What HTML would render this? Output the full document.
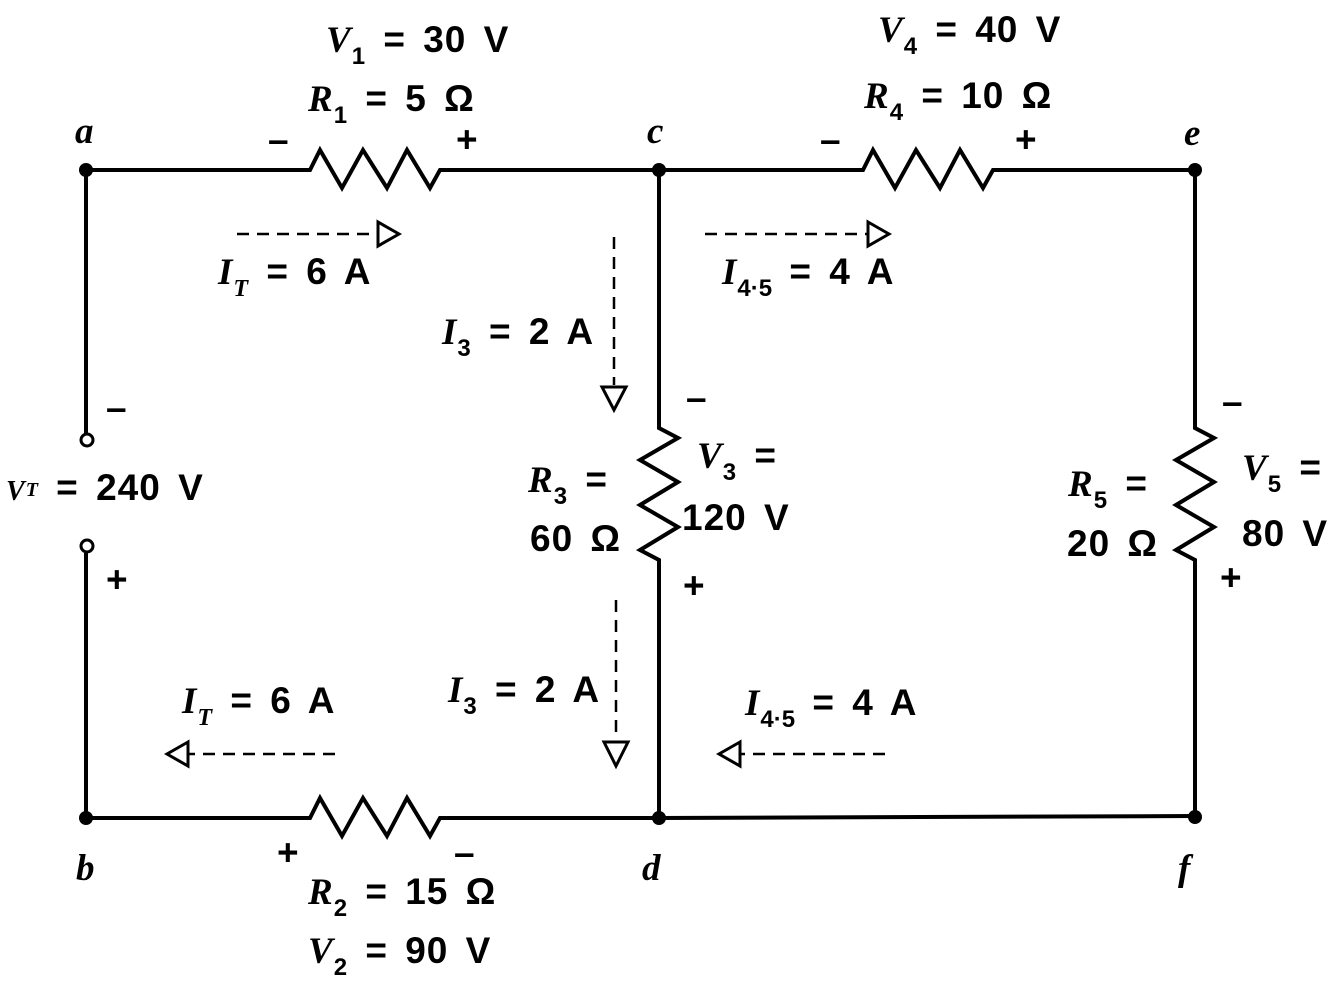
<!DOCTYPE html>
<html><head><meta charset="utf-8"><style>
html,body{margin:0;padding:0;background:#fff}
svg{display:block}
text{font-family:"Liberation Sans",sans-serif;font-weight:bold;fill:#000;word-spacing:6px;letter-spacing:1px}
.v{font-family:"Liberation Serif",serif;font-style:italic;font-weight:bold}
</style></head><body>
<svg width="1340" height="991" viewBox="0 0 1340 991" xmlns="http://www.w3.org/2000/svg">
<g stroke="#000" stroke-width="4" fill="none" stroke-linejoin="miter">
<polyline points="86,170 310,170 320,150 342,188 363,150 387,188 407,150 430,188 440,170 659,170 863,170 873,150 895,188 916,150 940,188 960,150 983,188 993,170 1195,170"/>
<polyline points="86,818 310,818 320,798 342,836 363,798 387,836 407,798 430,836 440,818 659,818 1195,816"/>
<line x1="86" y1="170" x2="86" y2="433"/>
<line x1="86" y1="553" x2="86" y2="818"/>
<polyline points="659,170 659,428 678,438 640,460 678,482 640,505 678,527 640,550 659,560 659,818"/>
<polyline points="1195,170 1195,428 1214,438 1176,460 1214,482 1176,505 1214,527 1176,550 1195,560 1195,816"/>
</g>
<g stroke="#000" stroke-width="3" fill="#fff">
<circle cx="87" cy="440" r="6"/>
<circle cx="87" cy="546" r="6"/>
</g>
<g fill="#000">
<circle cx="86" cy="170" r="7"/><circle cx="659" cy="170" r="7"/><circle cx="1195" cy="170" r="7"/>
<circle cx="86" cy="818" r="7"/><circle cx="659" cy="818" r="7"/><circle cx="1195" cy="817" r="7"/>
</g>
<g stroke="#000" stroke-width="2.5" fill="none" stroke-dasharray="12,8">
<line x1="237" y1="234" x2="378" y2="234"/>
<line x1="705" y1="234" x2="868" y2="234"/>
<line x1="614" y1="237" x2="614" y2="385"/>
<line x1="616" y1="600" x2="616" y2="740"/>
<line x1="335" y1="754" x2="188" y2="754"/>
<line x1="885" y1="754" x2="740" y2="754"/>
</g>
<g stroke="#000" stroke-width="3" fill="#fff" stroke-linejoin="miter">
<polygon points="378,222 399,234 378,246"/>
<polygon points="868,222 889,234 868,246"/>
<polygon points="602,387 626,387 614,410"/>
<polygon points="604,742 628,742 616,766"/>
<polygon points="188,742 167,754 188,766"/>
<polygon points="740,742 719,754 740,766"/>
</g>
<g font-size="37">
<text class="v" x="75" y="143">a</text>
<text class="v" x="647" y="143">c</text>
<text class="v" x="1184" y="145">e</text>
<text class="v" x="76" y="880">b</text>
<text class="v" x="642" y="880">d</text>
<text class="v" x="1178" y="880">f</text>

<text x="326" y="52"><tspan class="v">V</tspan><tspan font-size="24" dy="12">1</tspan><tspan dy="-12"> = 30 V</tspan></text>
<text x="308" y="111"><tspan class="v">R</tspan><tspan font-size="24" dy="12">1</tspan><tspan dy="-12"> = 5 Ω</tspan></text>
<text x="878" y="42"><tspan class="v">V</tspan><tspan font-size="24" dy="12">4</tspan><tspan dy="-12"> = 40 V</tspan></text>
<text x="864" y="108"><tspan class="v">R</tspan><tspan font-size="24" dy="12">4</tspan><tspan dy="-12"> = 10 Ω</tspan></text>
<text x="308" y="904"><tspan class="v">R</tspan><tspan font-size="24" dy="12">2</tspan><tspan dy="-12"> = 15 Ω</tspan></text>
<text x="308" y="963"><tspan class="v">V</tspan><tspan font-size="24" dy="12">2</tspan><tspan dy="-12"> = 90 V</tspan></text>

<text x="218" y="284"><tspan class="v">I</tspan><tspan class="v" font-size="24" dy="12">T</tspan><tspan dy="-12"> = 6 A</tspan></text>
<text x="722" y="284"><tspan class="v">I</tspan><tspan font-size="24" dy="12" style="word-spacing:0;letter-spacing:0">4·5</tspan><tspan dy="-12"> = 4 A</tspan></text>
<text x="442" y="344"><tspan class="v">I</tspan><tspan font-size="24" dy="12">3</tspan><tspan dy="-12"> = 2 A</tspan></text>
<text x="448" y="702"><tspan class="v">I</tspan><tspan font-size="24" dy="12">3</tspan><tspan dy="-12"> = 2 A</tspan></text>
<text x="182" y="713"><tspan class="v">I</tspan><tspan class="v" font-size="24" dy="12">T</tspan><tspan dy="-12"> = 6 A</tspan></text>
<text x="745" y="715"><tspan class="v">I</tspan><tspan font-size="24" dy="12" style="word-spacing:0;letter-spacing:0">4·5</tspan><tspan dy="-12"> = 4 A</tspan></text>

<text x="528" y="492"><tspan class="v">R</tspan><tspan font-size="24" dy="12">3</tspan><tspan dy="-12"> =</tspan></text>
<text x="530" y="551">60 Ω</text>
<text x="697" y="468"><tspan class="v">V</tspan><tspan font-size="24" dy="12">3</tspan><tspan dy="-12"> =</tspan></text>
<text x="682" y="530">120 V</text>
<text x="1068" y="496"><tspan class="v">R</tspan><tspan font-size="24" dy="12">5</tspan><tspan dy="-12"> =</tspan></text>
<text x="1067" y="556">20 Ω</text>
<text x="1242" y="480"><tspan class="v">V</tspan><tspan font-size="24" dy="12">5</tspan><tspan dy="-12"> =</tspan></text>
<text x="1242" y="546">80 V</text>

<text x="6" y="500"><tspan class="v" font-size="28">V</tspan><tspan class="v" font-size="20" dy="-4">T</tspan><tspan dy="4"> = 240 V</tspan></text>

<text x="268" y="152">–</text>
<text x="456" y="152">+</text>
<text x="820" y="152">–</text>
<text x="1015" y="152">+</text>
<text x="277" y="865">+</text>
<text x="454" y="865">–</text>
<text x="106" y="420">–</text>
<text x="106" y="592">+</text>
<text x="686" y="410">–</text>
<text x="683" y="598">+</text>
<text x="1222" y="414">–</text>
<text x="1220" y="590">+</text>
</g>
</svg>
</body></html>
